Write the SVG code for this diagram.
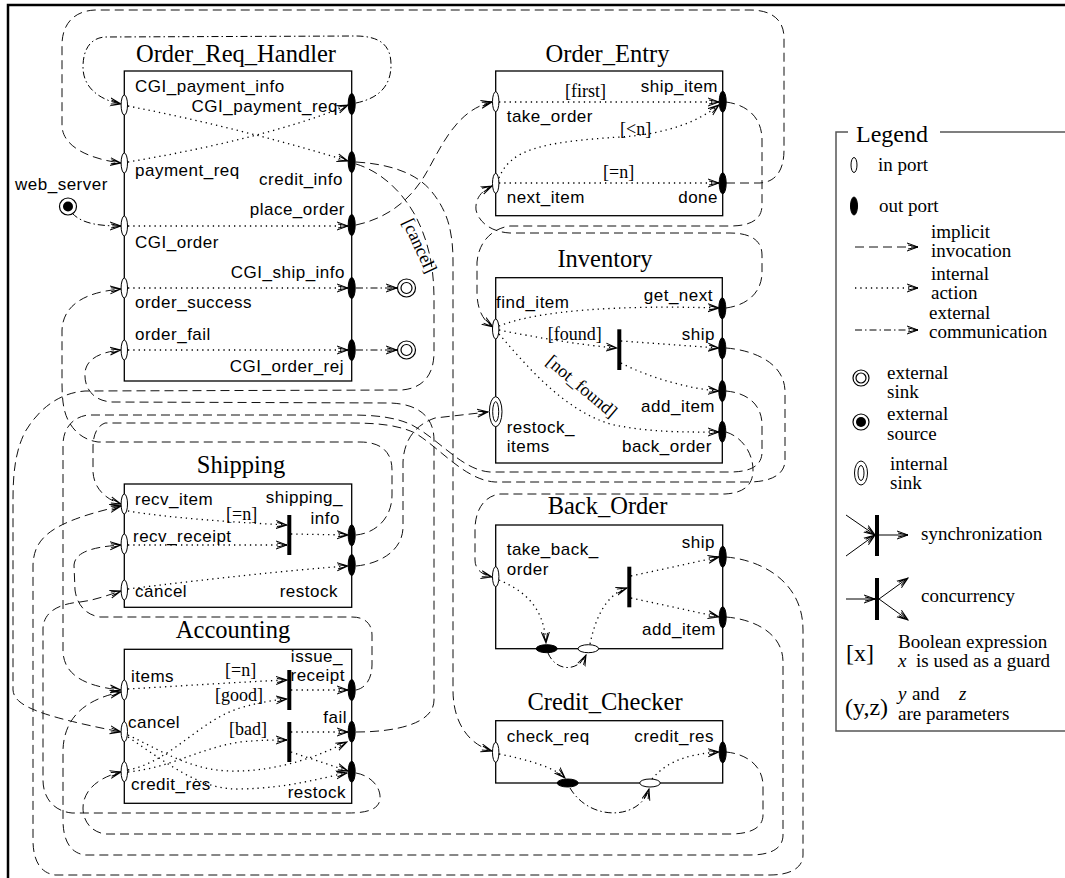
<svg xmlns="http://www.w3.org/2000/svg" width="1065" height="878" viewBox="0 0 1065 878">
<defs>
<style>
.box{fill:none;stroke:#000;stroke-width:1.3}
.t{font-family:"Liberation Serif","Times New Roman",serif;font-size:24.5px;text-anchor:middle}
.p{font-family:"Liberation Sans",Arial,sans-serif;font-size:17px;letter-spacing:0.5px}
.e{text-anchor:end}
.g{font-family:"Liberation Serif","Times New Roman",serif;font-size:18px}
.lg{font-family:"Liberation Serif","Times New Roman",serif;font-size:19px}
.ip{fill:#fff;stroke:#000;stroke-width:1}
.op{fill:#000;stroke:#000;stroke-width:1}
.dash{fill:none;stroke:#111;stroke-width:1;stroke-dasharray:9 5;marker-end:url(#ar)}
.dot{fill:none;stroke:#000;stroke-width:1.3;stroke-dasharray:1.3 4;marker-end:url(#ar)}
.dd{fill:none;stroke:#000;stroke-width:1;stroke-dasharray:7 3 1.5 3;marker-end:url(#ar)}
.sol{fill:none;stroke:#000;stroke-width:1;marker-end:url(#ar)}
.bar{stroke:#000;stroke-width:4}
</style>
<marker id="ar" viewBox="0 0 12 10" refX="11" refY="5" markerWidth="12" markerHeight="10" markerUnits="userSpaceOnUse" orient="auto">
<path d="M0,1 L11,5 L0,9 M1,3 L11,5 L1,7" fill="none" stroke="#000" stroke-width="1" stroke-dasharray="none"/>
</marker>
</defs>
<rect width="1065" height="878" fill="#fff"/>
<path d="M8,878 L8,5 L1065,5" fill="none" stroke="#000" stroke-width="2.5"/>

<g id="connectors">
<path class="dd" d="M356,103 C380,98 391,85 391,65 C391,45 380,36 355,36 L105,37 C90,38 83,50 83,67 C83,88 100,100 121,104"/>
<path class="dd" d="M72,213 C82,224 100,226 121,226"/>
<path class="dd" d="M356,288 L397,288"/>
<path class="dd" d="M356,350 L397,350"/>
<path class="dash" d="M726,183 L760,183 C776,182 784,170 784,150 L784,38 C784,20 772,10 750,10 L95,10 C73,11 62,25 62,45 L62,125 C62,147 90,159 121,163"/>
<path class="dash" d="M726,102 C748,105 762,118 762,140 L762,205 C762,220 750,226 730,226 L510,226 C494,228 479,240 477,262 L477,295 C478,312 484,321 493,327"/>
<path class="dash" d="M726,308 C748,305 762,292 762,272 L762,255 C762,240 750,233 730,233 L510,233 C492,232 479,223 476,210 C475,199 481,191 492,186"/>
<path class="dash" d="M356,225 C388,218 410,200 425,175 C440,150 455,110 492,102"/>
<path class="dash" d="M356,162 C388,164 416,172 432,192 C448,212 453,232 453,262 L453,690 C453,722 468,744 492,751"/>
<path class="dash" d="M356,164 C382,172 402,192 415,215 C428,240 434,265 434,300 L434,352 C434,374 424,388 402,390 L85,391 C58,393 38,410 25,432 C16,450 13,470 13,500 L13,690 C14,706 40,716 121,732"/>
<path class="dash" d="M356,732 C395,732 434,724 434,700 L434,440 C434,418 420,404 390,403 L112,402 C93,401 84,388 85,373 C86,359 100,352 121,350"/>
<path class="dash" d="M726,391 C748,393 762,405 762,425 L762,452 C762,466 750,472 730,472 L490,472 C462,470 440,440 412,425 C395,417 375,415 350,415 L88,415 C73,417 63,428 63,445 L63,650 C63,672 80,686 121,690"/>
<path class="dash" d="M726,348 C752,350 785,362 785,392 L785,460 C785,474 772,482 748,482 L495,482 C465,480 440,448 415,433 C398,425 378,423 350,423 L105,423 C97,426 93,435 93,447 L93,472 C94,488 105,499 121,504"/>
<path class="dash" d="M356,535 C376,533 392,518 392,495 L392,470 C392,451 380,442 360,442 L98,442 C84,440 74,432 68,420 C63,410 62,398 62,380 L62,330 C63,305 85,292 121,289"/>
<path class="dash" d="M356,566 C378,564 402,552 403,528 L403,462 C404,440 415,425 435,418 L488,412"/>
<path class="dash" d="M726,432 C742,437 753,453 753,470 C753,485 744,493 725,494 L500,494 C484,496 475,510 475,530 L475,560 C475,570 483,575 492,577"/>
<path class="dash" d="M726,557 C762,560 803,582 803,630 L803,855 C803,868 790,875 770,875 L55,875 C40,873 33,860 33,840 L33,565 C34,537 52,522 121,506"/>
<path class="dash" d="M726,617 C752,619 783,632 783,662 L783,835 C783,849 770,855 750,855 L85,855 C70,853 63,840 63,820 L63,750 C64,720 82,700 121,692"/>
<path class="dash" d="M726,752 C747,754 763,766 763,786 L763,815 C763,828 750,834 730,834 L105,834 C92,832 83,822 83,808 C83,792 96,778 121,772"/>
<path class="dash" d="M356,773 C372,776 381,788 380,799 C379,809 368,813 348,813 L72,813 C52,811 43,796 43,780 L43,628 C44,612 58,604 80,602 C96,600 108,595 121,591"/>
<path class="dash" d="M356,690 C366,688 372,678 372,665 L372,635 C372,624 365,617 352,617 L100,617 C86,615 77,605 75,590 L74,565 C75,553 90,547 121,545"/>
<text class="g" transform="translate(402,222) rotate(65)">[cancel]</text>
</g>

<g id="web_server">
<circle cx="68" cy="206.5" r="8.5" fill="#fff" stroke="#000" stroke-width="1.2"/>
<circle cx="68" cy="206.5" r="5" fill="#000"/>
<text class="p" x="15" y="190">web_server</text>
</g>
<g id="sink_ship_info">
<circle cx="406.5" cy="288" r="9" fill="#fff" stroke="#000" stroke-width="1.2"/>
<circle cx="406.5" cy="288" r="5.5" fill="none" stroke="#000" stroke-width="1.2"/>
</g>
<g id="sink_order_rej">
<circle cx="406.5" cy="350" r="9" fill="#fff" stroke="#000" stroke-width="1.2"/>
<circle cx="406.5" cy="350" r="5.5" fill="none" stroke="#000" stroke-width="1.2"/>
</g>

<g id="Order_Req_Handler">
<text class="t" x="236" y="61.5">Order_Req_Handler</text>
<rect class="box" x="124.3" y="71" width="227.4" height="310"/>
<path class="dot" d="M128,106 C200,120 280,140 348,161"/>
<path class="dot" d="M128,162 C200,150 290,130 348,105"/>
<path class="dot" d="M128,226 L348,226"/>
<path class="dot" d="M128,288 L348,288"/>
<path class="dot" d="M128,350 L348,350"/>
<ellipse class="ip" cx="124.3" cy="105" rx="3.2" ry="10"/>
<ellipse class="ip" cx="124.3" cy="163" rx="3.2" ry="10"/>
<ellipse class="ip" cx="124.3" cy="226" rx="3.2" ry="10"/>
<ellipse class="ip" cx="124.3" cy="288" rx="3.2" ry="10"/>
<ellipse class="ip" cx="124.3" cy="350" rx="3.2" ry="10"/>
<ellipse class="op" cx="351.7" cy="104" rx="3.5" ry="10.5"/>
<ellipse class="op" cx="351.7" cy="162" rx="3.5" ry="10.5"/>
<ellipse class="op" cx="351.7" cy="225" rx="3.5" ry="10.5"/>
<ellipse class="op" cx="351.7" cy="288" rx="3.5" ry="10.5"/>
<ellipse class="op" cx="351.7" cy="350" rx="3.5" ry="10.5"/>
<text class="p" x="135" y="91.5">CGI_payment_info</text>
<text class="p e" x="338" y="112">CGI_payment_req</text>
<text class="p" x="135" y="176">payment_req</text>
<text class="p e" x="343" y="184.5">credit_info</text>
<text class="p e" x="345" y="215">place_order</text>
<text class="p" x="135" y="248">CGI_order</text>
<text class="p e" x="345" y="278">CGI_ship_info</text>
<text class="p" x="135" y="308">order_success</text>
<text class="p" x="135" y="340">order_fail</text>
<text class="p e" x="344" y="372">CGI_order_rej</text>
</g>

<g id="Order_Entry">
<text class="t" x="607.5" y="61.5">Order_Entry</text>
<rect class="box" x="495.7" y="71" width="227" height="144.7"/>
<path class="dot" d="M499,102 L719,102"/>
<path class="dot" d="M499,178 C510,150 540,142 620,137 C670,134 700,120 719,105"/>
<path class="dot" d="M499,183 L719,183"/>
<ellipse class="ip" cx="495.7" cy="101.7" rx="3.2" ry="10"/>
<ellipse class="ip" cx="495.7" cy="183.3" rx="3.2" ry="10"/>
<ellipse class="op" cx="722.7" cy="101.7" rx="3.5" ry="10.5"/>
<ellipse class="op" cx="722.7" cy="183.3" rx="3.5" ry="10.5"/>
<text class="g" x="565" y="96.5">[first]</text>
<text class="g" x="620" y="135">[&lt;n]</text>
<text class="g" x="603" y="178">[=n]</text>
<text class="p" x="506.7" y="121.5">take_order</text>
<text class="p e" x="718" y="91.5">ship_item</text>
<text class="p" x="506.7" y="203.3">next_item</text>
<text class="p e" x="718" y="203.3">done</text>
</g>

<g id="Inventory">
<text class="t" x="605" y="266.5">Inventory</text>
<rect class="box" x="495.7" y="277.7" width="226.6" height="185.3"/>
<path class="dot" d="M499,326 C540,310 620,305 719,308"/>
<path class="dot" d="M499,330 C540,338 580,345 617,348"/>
<path class="dot" d="M621,341 L719,348"/>
<path class="dot" d="M621,363 C650,378 690,389 719,391"/>
<path class="dot" d="M499,334 C530,370 565,410 610,424 C650,433 690,432 719,432"/>
<line class="bar" x1="619.3" y1="329.3" x2="619.3" y2="370"/>
<ellipse class="ip" cx="495.7" cy="329" rx="3.2" ry="10"/>
<ellipse class="ip" cx="495.7" cy="411.7" rx="6.3" ry="15"/>
<ellipse class="ip" cx="495.7" cy="411.7" rx="3" ry="10"/>
<ellipse class="op" cx="722.3" cy="308.3" rx="3.5" ry="10.5"/>
<ellipse class="op" cx="722.3" cy="348.3" rx="3.5" ry="10.5"/>
<ellipse class="op" cx="722.3" cy="391" rx="3.5" ry="10.5"/>
<ellipse class="op" cx="722.3" cy="431.7" rx="3.5" ry="10.5"/>
<text class="p" x="496" y="308">find_item</text>
<text class="p e" x="713" y="300.5">get_next</text>
<text class="p e" x="715" y="340">ship</text>
<text class="g" x="547.7" y="340">[found]</text>
<text class="g" text-anchor="middle" transform="translate(578,391) rotate(40)">[not_found]</text>
<text class="p e" x="715" y="411.7">add_item</text>
<text class="p e" x="712" y="452">back_order</text>
<text class="p" x="506.7" y="433">restock_</text>
<text class="p" x="506.7" y="452">items</text>
</g>

<g id="Back_Order">
<text class="t" x="607.5" y="514">Back_Order</text>
<rect class="box" x="495.7" y="525" width="227" height="123.7"/>
<path class="dot" d="M499,580 C522,590 544,605 546,643"/>
<path class="dd" d="M548,653 C556,672 578,672 586,655"/>
<path class="dot" d="M590,644 C595,620 605,595 627,588"/>
<path class="dot" d="M631,576 L719,557"/>
<path class="dot" d="M631,598 L719,617"/>
<line class="bar" x1="629.3" y1="566.7" x2="629.3" y2="607.3"/>
<ellipse class="ip" cx="495.7" cy="576.7" rx="3.2" ry="10"/>
<ellipse class="op" cx="722.7" cy="556.7" rx="3.5" ry="10.5"/>
<ellipse class="op" cx="722.7" cy="617.3" rx="3.5" ry="10.5"/>
<ellipse class="op" cx="546.7" cy="648.7" rx="10.5" ry="4"/>
<ellipse class="ip" cx="588.3" cy="648.7" rx="10.3" ry="4"/>
<text class="p" x="506.7" y="555">take_back_</text>
<text class="p" x="506.7" y="575">order</text>
<text class="p e" x="715" y="548">ship</text>
<text class="p e" x="716" y="635">add_item</text>
</g>

<g id="Credit_Checker">
<text class="t" x="605" y="710">Credit_Checker</text>
<rect class="box" x="495.7" y="720.7" width="227" height="62.3"/>
<path class="dot" d="M499,754 C530,760 555,768 565,778"/>
<path class="dd" d="M570,788 C590,822 640,820 649,789"/>
<path class="dot" d="M652,779 C668,760 690,754 719,752"/>
<ellipse class="ip" cx="495.7" cy="752.3" rx="3.2" ry="10"/>
<ellipse class="op" cx="722.7" cy="752.3" rx="3.5" ry="10.5"/>
<ellipse class="op" cx="567.7" cy="783" rx="10.5" ry="4"/>
<ellipse class="ip" cx="650" cy="783" rx="10.3" ry="4"/>
<text class="p" x="506.7" y="741.7">check_req</text>
<text class="p e" x="714" y="741.7">credit_res</text>
</g>

<g id="Shipping">
<text class="t" x="241" y="473.3">Shipping</text>
<rect class="box" x="124.3" y="484" width="227.4" height="123.3"/>
<path class="dot" d="M128,511 C170,518 230,522 287,525"/>
<path class="dot" d="M128,545 L287,545"/>
<path class="dot" d="M291,534 L348,535"/>
<path class="dot" d="M128,589 C200,580 290,570 348,566"/>
<line class="bar" x1="289.3" y1="515" x2="289.3" y2="555"/>
<ellipse class="ip" cx="124.3" cy="504" rx="3.2" ry="10"/>
<ellipse class="ip" cx="124.3" cy="544" rx="3.2" ry="10"/>
<ellipse class="ip" cx="124.3" cy="590" rx="3.2" ry="10"/>
<ellipse class="op" cx="351.7" cy="535.3" rx="3.5" ry="10.5"/>
<ellipse class="op" cx="351.7" cy="565" rx="3.5" ry="10.5"/>
<text class="p" x="135" y="505">recv_item</text>
<text class="p e" x="343" y="502.5">shipping_</text>
<text class="p e" x="340" y="523.5">info</text>
<text class="g" x="226" y="520">[=n]</text>
<text class="p" x="133" y="542">recv_receipt</text>
<text class="p" x="135" y="597">cancel</text>
<text class="p e" x="338" y="597">restock</text>
</g>

<g id="Accounting">
<text class="t" x="233" y="638.3">Accounting</text>
<rect class="box" x="124.3" y="649.3" width="227.4" height="154"/>
<path class="dot" d="M128,689 C180,686 240,682 287,680"/>
<path class="dot" d="M128,770 C170,762 200,720 240,708 C260,702 275,700 287,699"/>
<path class="dot" d="M128,772 C170,768 200,748 240,742 C260,740 275,740 287,740"/>
<path class="dot" d="M128,735 C160,750 190,770 230,771 C280,772 320,755 347,742"/>
<path class="dot" d="M128,737 C170,765 200,790 240,789 C290,788 320,778 347,773"/>
<path class="dot" d="M291,690 L348,690"/>
<path class="dot" d="M291,732 L348,732"/>
<path class="dot" d="M291,752 L348,771"/>
<line class="bar" x1="289.3" y1="670" x2="289.3" y2="710"/>
<line class="bar" x1="289.3" y1="722" x2="289.3" y2="762"/>
<ellipse class="ip" cx="124.3" cy="690" rx="3.2" ry="10"/>
<ellipse class="ip" cx="124.3" cy="731.7" rx="3.2" ry="10"/>
<ellipse class="ip" cx="124.3" cy="771.7" rx="3.2" ry="10"/>
<ellipse class="op" cx="351.7" cy="690" rx="3.5" ry="10.5"/>
<ellipse class="op" cx="351.7" cy="731.7" rx="3.5" ry="10.5"/>
<ellipse class="op" cx="351.7" cy="771.7" rx="3.5" ry="10.5"/>
<text class="p e" x="343" y="662">issue_</text>
<text class="p" x="131" y="682">items</text>
<text class="p e" x="345" y="681">receipt</text>
<text class="g" x="225" y="676">[=n]</text>
<text class="g" x="215" y="701">[good]</text>
<text class="p e" x="347" y="723">fail</text>
<text class="p" x="128" y="728">cancel</text>
<text class="g" x="229" y="735">[bad]</text>
<text class="p" x="131" y="790">credit_res</text>
<text class="p e" x="346" y="798">restock</text>
</g>

<g id="Legend">
<path d="M848,132 L836,132 L836,731 L1065,731 M940,132 L1065,132" fill="none" stroke="#555" stroke-width="1.5"/>
<text class="lg" x="856" y="141.5" style="font-size:24px">Legend</text>
<ellipse class="ip" cx="854" cy="165" rx="3" ry="7.5"/>
<text class="lg" x="878" y="171">in port</text>
<ellipse class="op" cx="854" cy="206" rx="3.5" ry="9"/>
<text class="lg" x="879" y="212">out port</text>
<path class="dash" d="M855,247 L918,247"/>
<text class="lg" x="931" y="238">implicit</text>
<text class="lg" x="931" y="257">invocation</text>
<path class="dot" d="M855,288 L918,288"/>
<text class="lg" x="931" y="280">internal</text>
<text class="lg" x="931" y="299">action</text>
<path class="dd" d="M855,330 L918,330"/>
<text class="lg" x="929" y="319">external</text>
<text class="lg" x="929" y="338">communication</text>
<circle cx="861" cy="378" r="8" fill="#fff" stroke="#000" stroke-width="1.2"/>
<circle cx="861" cy="378" r="5" fill="none" stroke="#000" stroke-width="1.2"/>
<text class="lg" x="887" y="379">external</text>
<text class="lg" x="887" y="398">sink</text>
<circle cx="861" cy="422" r="8" fill="#fff" stroke="#000" stroke-width="1.2"/>
<circle cx="861" cy="422" r="5" fill="#000"/>
<text class="lg" x="887" y="420">external</text>
<text class="lg" x="887" y="440">source</text>
<ellipse class="ip" cx="861" cy="473" rx="6.5" ry="12"/>
<ellipse class="ip" cx="861" cy="473" rx="3" ry="7.5"/>
<text class="lg" x="890" y="470">internal</text>
<text class="lg" x="890" y="489">sink</text>
<line class="bar" x1="877" y1="515" x2="877" y2="556"/>
<path class="sol" d="M846,515 L875,535"/>
<path class="sol" d="M846,556 L875,535"/>
<path class="sol" d="M879,535 L908,535"/>
<text class="lg" x="921" y="540">synchronization</text>
<line class="bar" x1="877" y1="578" x2="877" y2="620"/>
<path class="sol" d="M846,599 L875,599"/>
<path class="sol" d="M879,599 L908,578"/>
<path class="sol" d="M879,599 L908,620"/>
<text class="lg" x="921" y="602">concurrency</text>
<text class="lg" x="846" y="661" style="font-size:24px">[x]</text>
<text class="lg" x="898" y="648">Boolean expression</text>
<text class="lg" x="898" y="667"><tspan font-style="italic">x</tspan><tspan x="916">is used as a guard</tspan></text>
<text class="lg" x="845" y="715" style="font-size:24px">(y,z)</text>
<text class="lg" x="898" y="700"><tspan font-style="italic">y</tspan><tspan x="912">and</tspan><tspan x="959" font-style="italic">z</tspan></text>
<text class="lg" x="898" y="720">are parameters</text>
</g>
</svg>
